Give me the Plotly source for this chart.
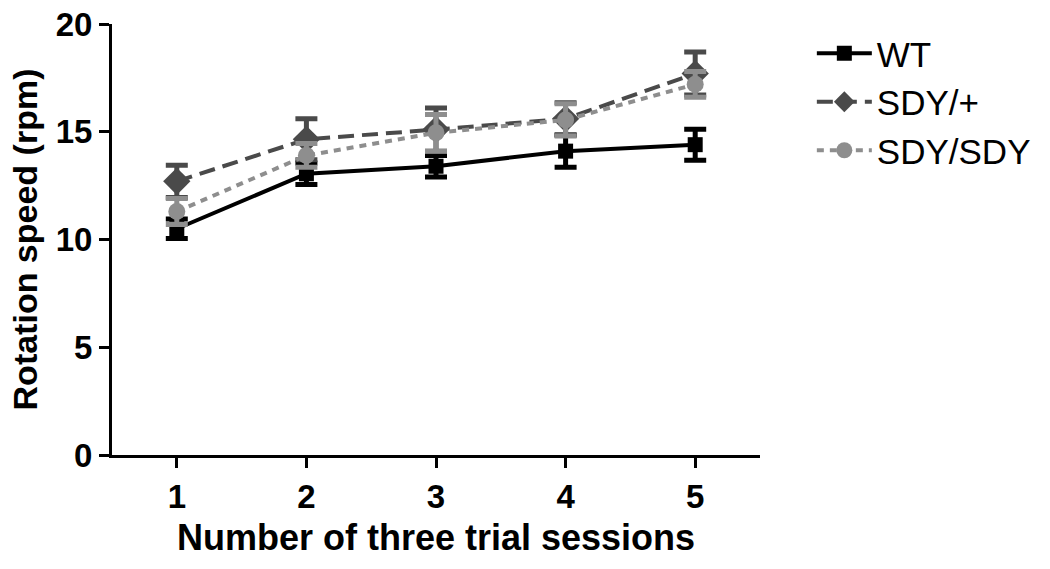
import plotly.graph_objects as go

sessions = [1, 2, 3, 4, 5]
wt = [10.5, 13.05, 13.4, 14.1, 14.4]
wt_err = [0.45, 0.5, 0.5, 0.75, 0.72]
sdy_het = [12.7, 14.65, 15.1, 15.6, 17.7]
sdy_het_err = [0.75, 0.95, 1.0, 0.75, 1.0]
sdy_hom = [11.3, 13.9, 14.95, 15.55, 17.2]
sdy_hom_err = [0.6, 0.55, 0.85, 0.75, 0.6]

series = [
    ("WT", wt, wt_err, "#000000", "solid", "square", 15),
    ("SDY/+", sdy_het, sdy_het_err, "#4a4a4a", "16px,8px", "diamond", 21),
    ("SDY/SDY", sdy_hom, sdy_hom_err, "#8e8e8e", "7px,6px", "circle", 17),
]

FONT = "Liberation Sans, Arial, sans-serif"

fig = go.Figure()
for name, vals, errs, col, dash, sym, sz in series:
    fig.add_trace(go.Scatter(
        x=sessions, y=vals, name=name, mode="lines+markers",
        line=dict(color=col, width=4, dash=dash),
        marker=dict(symbol=sym, size=sz, color=col),
        error_y=dict(type="data", array=errs, visible=True, color=col,
                     thickness=5, width=11),
    ))

fig.update_layout(
    width=1050, height=569,
    paper_bgcolor="white", plot_bgcolor="white",
    margin=dict(l=112, r=290, t=24, b=114, autoexpand=False),
    font=dict(family=FONT, color="black"),
    legend=dict(x=1.08, y=1.0, xanchor="left", yanchor="top",
                font=dict(size=35, color="black", family=FONT),
                itemwidth=55, tracegroupgap=4,
                bgcolor="rgba(0,0,0,0)"),
    showlegend=True,
)
fig.update_xaxes(
    range=[0.5, 5.5], tickvals=sessions, ticktext=[str(s) for s in sessions],
    showline=True, linecolor="black", linewidth=3,
    ticks="outside", ticklen=10, tickwidth=3, tickcolor="black",
    showgrid=False, zeroline=False, ticklabeloverflow="allow",
    tickfont=dict(size=33, family=FONT, weight="bold"),
    title=dict(text="<b>Number of three trial sessions</b>",
               font=dict(size=36, family=FONT), standoff=12),
)
fig.update_yaxes(
    range=[0, 20], tickvals=[0, 5, 10, 15, 20],
    showline=True, linecolor="black", linewidth=3,
    ticks="outside", ticklen=10, tickwidth=3, tickcolor="black",
    showgrid=False, zeroline=False, ticklabeloverflow="allow",
    tickfont=dict(size=33, family=FONT, weight="bold"),
    title=dict(text="<b>Rotation speed (rpm)</b>", font=dict(size=34, family=FONT), standoff=8),
)

fig.write_html("out.html", config={"displayModeBar": False},
               post_script="document.body.style.margin='0';")
